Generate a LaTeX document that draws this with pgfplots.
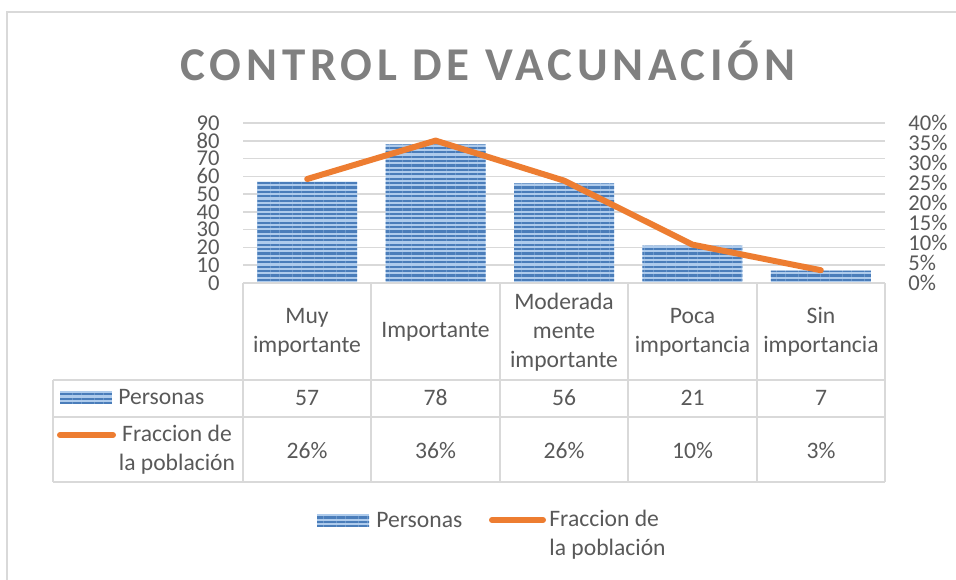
\documentclass[border=0pt]{standalone}
\usepackage{fontspec}
\setmainfont{Carlito}
\newfontfamily\titlefont{Carlito}[LetterSpace=10]
\usepackage{pgfplots}
\usepackage{pgfplotstable}
\pgfplotsset{compat=1.18}
\usetikzlibrary{patterns.meta}

\definecolor{txt}{HTML}{595959}
\definecolor{grd}{HTML}{D9D9D9}
\definecolor{ttl}{HTML}{808080}
\definecolor{barlt}{HTML}{AECBEC}
\definecolor{bardk}{HTML}{4A7DBA}
\definecolor{orng}{HTML}{ED7D31}

\tikzset{
  stripes/.style={fill=barlt, postaction={pattern={Lines[angle=0,distance=2.2pt,line width=1.1pt]}, pattern color=bardk}},
  lbl/.style={font=\fontsize{11.8}{14.5}\selectfont, text=txt, inner sep=0pt},
  tlbl/.style={font=\fontsize{11.3}{12}\selectfont, text=txt, inner sep=0pt},
}

% categoria, personas, fraccion (%)
\pgfplotstableread{
x n f
0 57 26.0
1 78 35.6
2 56 25.6
3 21 9.6
4 7 3.2
}\datatable

\begin{document}
\begin{tikzpicture}[x=0.5pt,y=-0.5pt]
\useasboundingbox (0,0) rectangle (956,579);
\draw[grd, line width=0.8pt] (7,585) -- (7,12) -- (962,12);

\node[font=\titlefont\bfseries\fontsize{23.5}{28}\selectfont, text=ttl, anchor=base, inner sep=0pt] at (488,80) {CONTROL DE VACUNACIÓN};

\pgfplotsset{common/.style={
  at={(121.5pt,-141.5pt)}, anchor=south west,
  width=321pt, height=80pt, scale only axis,
  xmin=-0.5, xmax=4.5, xtick=\empty,
  axis line style={draw=none}, major tick length=0pt,
  /pgf/number format/assume math mode=true,
  clip=false,
}}

\begin{axis}[common,
  ymin=0, ymax=90, ytick={0,10,...,90},
  ymajorgrids, grid style={grd, line width=0.8pt},
  yticklabel style={tlbl, anchor=east, xshift=-11.5pt},
]
\addplot[ybar, bar width=50pt, draw=none, stripes] table[x=x,y=n]{\datatable};
\end{axis}

\begin{axis}[common,
  ymin=0, ymax=40, ytick={0,5,...,40},
  yticklabel pos=right,
  yticklabel={\pgfmathprintnumber{\tick}\%},
  yticklabel style={tlbl, anchor=west, xshift=11.5pt},
]
\addplot[orng, line width=3pt, line cap=round, line join=round] table[x=x,y=f]{\datatable};
\end{axis}

% tabla de datos
\begin{scope}[grd, line width=0.8pt]
\draw (243,283) -- (885,283);
\foreach \yy in {380,417,482} \draw (53,\yy) -- (885,\yy);
\draw (53,380) -- (53,482);
\foreach \xx in {243,371,500,628,757,885} \draw (\xx,283) -- (\xx,482);
\end{scope}

\node[lbl, align=center] at (307,332) {Muy\\importante};
\node[lbl, align=center] at (435.5,332) {Importante};
\node[lbl, align=center] at (564,332) {Moderada\\mente\\importante};
\node[lbl, align=center] at (692.5,332) {Poca\\importancia};
\node[lbl, align=center] at (821,332) {Sin\\importancia};

\foreach \cx/\v in {307/57, 435.5/78, 564/56, 692.5/21, 821/7}
  \node[lbl] at (\cx,398) {\v};
\foreach \cx/\v in {307/26, 435.5/36, 564/26, 692.5/10, 821/3}
  \node[lbl] at (\cx,451) {\v\%};

\path[stripes] (60,391) rectangle (112,404);
\node[lbl, anchor=west] at (118,397) {Personas};
\draw[orng, line width=3pt, line cap=round] (60,435) -- (113,435);
\node[lbl, align=center] at (177,450) {Fraccion de\\la población};

% leyenda
\path[stripes] (317,514) rectangle (369,527);
\node[lbl, anchor=west] at (376,520) {Personas};
\draw[orng, line width=3pt, line cap=round] (492,520) -- (543,520);
\node[lbl, align=left, anchor=north west] at (549,510) {Fraccion de\\la población};
\end{tikzpicture}
\end{document}
